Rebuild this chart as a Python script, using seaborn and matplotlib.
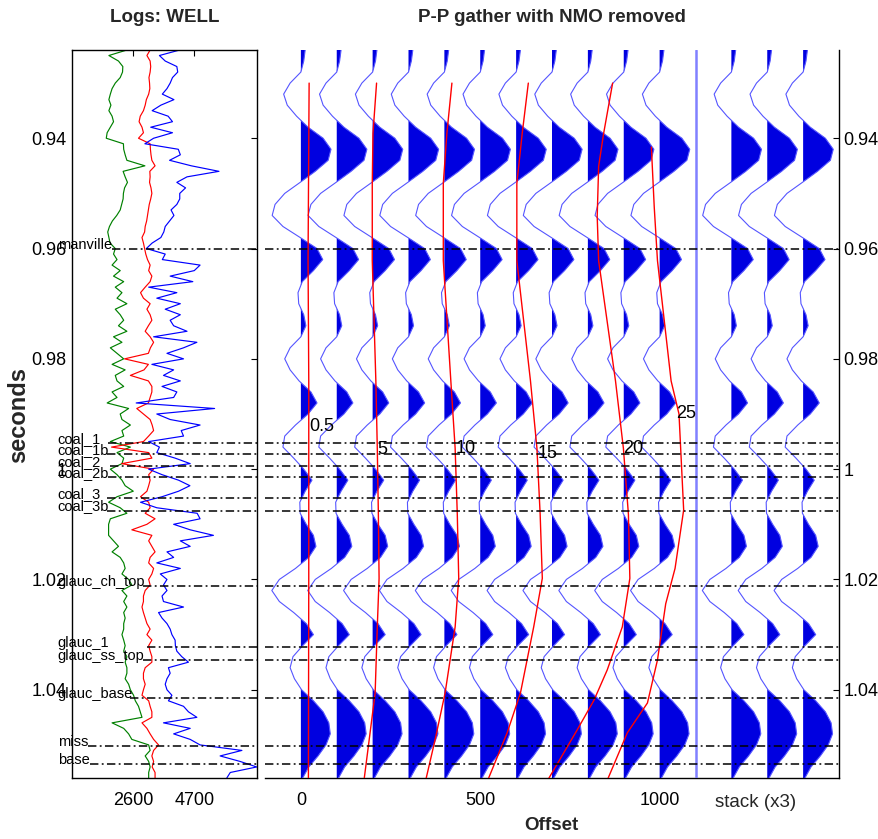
import numpy as np
import pandas as pd
import matplotlib
matplotlib.use("Agg")
import matplotlib.pyplot as plt
import matplotlib.transforms as mtransforms
from matplotlib.ticker import FuncFormatter
import seaborn as sns

# ---------------- well logs: 1 ms samples from 0.924 s to 1.056 s ----------------
log_t0, log_dt, log_n = 0.924, 0.001, 133
log_green = [
    2380, 1760, 2090, 2240, 2230, 2150, 1980, 1870, 1810, 1760,
    1830, 1760, 1870, 1920, 1810, 1700, 1670, 2260, 2270, 2320,
    2380, 3000, 2250, 2320, 2400, 2300, 2260, 2250, 2200, 2150,
    2030, 1880, 1780, 1720, 1760, 1800, 1980, 1920, 2040, 1870,
    2150, 1920, 2270, 1980, 2210, 2040, 2380, 1980, 2150, 2270,
    2090, 2380, 1920, 2210, 1810, 2040, 2270, 1870, 2320, 1980,
    2040, 2270, 1870, 2040, 1700, 2440, 2150, 2210, 2500, 2210,
    2270, 1810, 2500, 2040, 2270, 2210, 1810, 2040, 2210, 2320,
    2600, 2040, 1750, 2150, 2380, 1810, 1750, 1750, 1750, 1920,
    2090, 1870, 2150, 2270, 2320, 2210, 2440, 2550, 2210, 2380,
    2270, 2380, 2270, 2320, 2270, 2270, 2210, 2270, 2320, 2270,
    2380, 2320, 2380, 2380, 2320, 2440, 2500, 2610, 2670, 2780,
    2840, 2900, 1870, 2270, 2440, 2550, 3130, 3180, 3010, 3130,
    3180, 3130, 3130,
]
log_red = [
    3180, 3070, 3180, 3200, 3180, 3140, 3160, 3170, 3130, 3050,
    3010, 2950, 2840, 2800, 2900, 2950, 2780, 3180, 3190, 3210,
    3240, 3350, 3170, 3180, 3160, 3210, 3240, 3200, 3150, 3120,
    3090, 3060, 3010, 2990, 2900, 2950, 2990, 3030, 3090, 3180,
    3130, 3240, 3180, 3010, 2850, 2950, 3180, 3070, 3180, 3240,
    3120, 3010, 3180, 3300, 3190, 3120, 2300, 3120, 2970, 2500,
    3120, 3240, 3240, 3180, 3120, 2720, 2950, 3180, 3250, 3300,
    3130, 2950, 1850, 3130, 3240, 2200, 3300, 3130, 3180, 3130,
    3070, 2850, 3130, 3180, 3010, 3350, 3070, 2550, 3240, 3130,
    3240, 3350, 3180, 3130, 3300, 3240, 3130, 3180, 3010, 2950,
    2950, 2900, 2950, 3010, 3070, 3180, 3070, 3240, 3130, 3180,
    3240, 3240, 3010, 2950, 2950, 3010, 2950, 2900, 3130, 3180,
    3240, 3240, 2900, 3070, 3180, 3300, 3470, 3300, 3240, 3300,
    3250, 3350, 3350,
]
log_blue = [
    4200, 3500, 3700, 4100, 4130, 3950, 3870, 3760, 3600, 4000,
    3550, 3250, 3800, 3950, 3200, 3950, 3300, 3000, 4150, 4220,
    3850, 4600, 5550, 4450, 4100, 4400, 4200, 4200, 4100, 3900,
    4000, 3850, 3700, 3650, 3550, 3250, 3050, 3700, 3600, 4900,
    4700, 3870, 4650, 3130, 4100, 3410, 4220, 3700, 4220, 3870,
    3990, 4450, 3300, 4790, 4330, 3760, 4330, 3240, 3990, 3640,
    4220, 3590, 4100, 3990, 2700, 5400, 3410, 3870, 4900, 4250,
    4330, 3130, 3500, 3410, 4040, 4560, 3130, 3590, 4160, 4550,
    4160, 3590, 2850, 3410, 4800, 4900, 3990, 4560, 5360, 4220,
    4560, 3760, 3990, 3410, 4220, 3530, 3760, 3640, 3760, 3590,
    3640, 4330, 3470, 3590, 3760, 3870, 3930, 4040, 4050, 4100,
    4270, 4500, 3810, 3870, 3760, 3700, 3760, 3930, 3810, 4330,
    4500, 4790, 3640, 4560, 3990, 4560, 4900, 6340, 5590, 6280,
    6850, 5940, 5820,
]
log_colors = {"green": "#008000", "red": "#ff0000", "blue": "#0000ff"}
log_xticks = [2600, 4700]

# ---------------- NMO-corrected trace: 2 ms samples from 0.924 s ----------------
trace_t0, trace_dt = 0.924, 0.002
trace_amp = [
    12, 8, 0, -30, -48, -38, -12, 20, 62, 84,
    76, 40, -2, -45, -72, -80, -50, -2, 45, 61,
    35, 4, -8, -6, 8, 14, 0, -30, -45, -30,
    -5, 28, 45, 20, -15, -45, -50, -20, 8, 31,
    12, -3, -2, 15, 35, 42, 22, -15, -60, -81,
    -60, -20, 15, 35, 5, -22, -30, -18, 2, 35,
    62, 78, 82, 70, 48, 22, 5,
]
gather_offsets = [0, 100, 200, 300, 400, 500, 600, 700, 800, 900, 1000]
stack_offsets = [1200, 1300, 1400]
stack_divider = 1100
offset_ticks = [0, 500, 1000]

# ---------------- incidence-angle contours (degrees) ----------------
angle_labels = ["0.5", "5", "10", "15", "20", "25"]
angle_times = [
    [0.930, 0.9622, 0.984, 1.0198, 1.0564],
    [0.930, 0.9391, 0.9482, 0.9622, 0.984, 0.9962, 1.0082, 1.0198, 1.0286, 1.0406, 1.0503, 1.0564],
    [0.930, 0.9391, 0.9482, 0.9622, 0.984, 0.9962, 1.0082, 1.0198, 1.0286, 1.0406, 1.0491, 1.0564],
    [0.930, 0.9391, 0.9482, 0.9622, 0.984, 0.9962, 1.0082, 1.0198, 1.0286, 1.0406, 1.0478, 1.0564],
    [0.930, 0.9391, 0.9451, 0.9542, 0.9622, 0.984, 0.9962, 1.0082, 1.0198, 1.0286, 1.0364, 1.0419, 1.0473, 1.0564],
    [0.9416, 0.9525, 0.9622, 0.984, 0.990, 1.0074, 1.018, 1.0244, 1.0346, 1.0424, 1.0478, 1.0564],
]
angle_offsets = [
    [23, 20, 22, 22, 21],
    [211, 201, 199, 199, 209, 213, 216, 218, 213, 207, 188, 176],
    [421, 407, 397, 397, 418, 430, 436, 440, 430, 402, 374, 348],
    [634, 617, 602, 602, 640, 658, 667, 673, 649, 612, 575, 521],
    [869, 844, 830, 826, 830, 877, 899, 913, 917, 896, 854, 817, 770, 688],
    [977, 985, 994, 1032, 1054, 1067, 1043, 1017, 994, 966, 910, 854],
]
angle_label_x = [22, 212, 430, 659, 899, 1045]
angle_label_t = [0.9922, 0.9964, 0.9962, 0.9971, 0.9962, 0.9900]

# ---------------- horizons ----------------
horizon_names = ["manville", "coal_1", "coal_1b", "coal_2", "coal_2b", "coal_3", "coal_3b",
                 "glauc_ch_top", "glauc_1", "glauc_ss_top", "glauc_base", "miss", "base"]
horizon_times = [0.9600, 0.99528, 0.99728, 0.99940, 1.00134, 1.00525, 1.00750,
                 1.02110, 1.03226, 1.03469, 1.04150, 1.05015, 1.05354]
horizon_line_x0 = [1867, 1730, 1700, 1800, 1730, 1700, 1700,
                   2935, 3072, 2935, 2487, 1041, 1110]

T_TOP, T_BOT = 0.924, 1.056

sns.set_theme(style="white")
plt.rcParams["font.family"] = ["Liberation Sans", "DejaVu Sans"]
plt.rcParams["axes.edgecolor"] = "black"
plt.rcParams["axes.linewidth"] = 1.0

TICK_FS = 13
W, H = 879, 839
fig = plt.figure(figsize=(W / 100, H / 100), dpi=100)
fig.patch.set_facecolor("white")
ax_log = fig.add_axes([72 / W, 1 - 778 / H, 185 / W, 728 / H])
ax_g = fig.add_axes([265 / W, 1 - 778 / H, 574 / W, 728 / H])

tick_fmt = FuncFormatter(lambda v, p: f"{v:g}")
yticks = [0.94, 0.96, 0.98, 1.00, 1.02, 1.04]
dashdot = (0, (5.5, 2.2, 1.2, 2.2))

# ---------------- log panel ----------------
log_t = np.round(log_t0 + log_dt * np.arange(log_n), 4)
logs = pd.concat([
    pd.DataFrame({"time": log_t, "value": log_green, "curve": "green"}),
    pd.DataFrame({"time": log_t, "value": log_red, "curve": "red"}),
    pd.DataFrame({"time": log_t, "value": log_blue, "curve": "blue"}),
])
sns.lineplot(data=logs, x="value", y="time", hue="curve", palette=log_colors,
             orient="y", sort=False, estimator=None, legend=False,
             linewidth=0.85, ax=ax_log)
ax_log.set_xlim(490, 6860)
ax_log.set_ylim(T_BOT, T_TOP)
ax_log.set_xticks(log_xticks)
ax_log.set_xticklabels([str(v) for v in log_xticks])
ax_log.set_yticks(yticks)
ax_log.yaxis.set_major_formatter(tick_fmt)
ax_log.set_xlabel("")
ax_log.set_ylabel("")
ax_log.tick_params(direction="in", top=True, right=True, length=4, width=0.8,
                   labelsize=TICK_FS, pad=4, colors="black")
ax_log.tick_params(axis="x", pad=10)
for sp in ax_log.spines.values():
    sp.set_visible(True)
    sp.set_color("black")

for name, t, x0 in zip(horizon_names, horizon_times, horizon_line_x0):
    ax_log.plot([x0, 6860], [t, t], color="black", lw=1.1, linestyle=dashdot, zorder=5)
    ax_log.text(0, t, name, ha="left", va="baseline", fontsize=10.5, color="black",
                clip_on=False, zorder=6)

# ---------------- gather panel ----------------
tr_t = np.round(trace_t0 + trace_dt * np.arange(len(trace_amp)), 4)
amp = np.asarray(trace_amp, dtype=float)
fill_col = "#0000e0"
wig_col = "#5555ff"
all_offsets = gather_offsets + stack_offsets
for x0 in all_offsets:
    ax_g.fill_betweenx(tr_t, x0, x0 + amp, where=amp > 0, interpolate=True,
                       color=fill_col, linewidth=0, zorder=2)
wig = pd.concat([pd.DataFrame({"time": tr_t, "x": x0 + amp, "trace": i})
                 for i, x0 in enumerate(all_offsets)])
sns.lineplot(data=wig, x="x", y="time", units="trace", estimator=None, orient="y",
             sort=False, color=wig_col, linewidth=0.8, ax=ax_g, zorder=3)

ax_g.axvline(stack_divider, color="#8080ff", lw=1.8, zorder=3)

curves = pd.concat([pd.DataFrame({"time": tt, "offset": oo, "angle": lab})
                    for tt, oo, lab in zip(angle_times, angle_offsets, angle_labels)])
sns.lineplot(data=curves, x="offset", y="time", hue="angle",
             palette={lab: "#ff0000" for lab in angle_labels}, orient="y", sort=False,
             estimator=None, legend=False, linewidth=1.0, ax=ax_g, zorder=4)
for lab, x, t in zip(angle_labels, angle_label_x, angle_label_t):
    ax_g.text(x, t, lab, ha="left", va="center", fontsize=13, color="black", zorder=7)

for t in horizon_times:
    ax_g.axhline(t, color="black", lw=1.1, linestyle=dashdot, zorder=5)

ax_g.set_xlim(-100, 1500)
ax_g.set_ylim(T_BOT, T_TOP)
ax_g.set_xticks(offset_ticks)
ax_g.set_xticklabels([str(v) for v in offset_ticks])
ax_g.set_yticks(yticks)
ax_g.yaxis.set_major_formatter(tick_fmt)
ax_g.yaxis.tick_right()
ax_g.set_xlabel("")
ax_g.set_ylabel("")
ax_g.spines["left"].set_visible(False)
ax_g.spines["top"].set_visible(False)
ax_g.spines["right"].set_color("black")
ax_g.spines["bottom"].set_color("black")
ax_g.tick_params(direction="in", length=4, width=0.8, labelsize=TICK_FS, pad=3, colors="black")
ax_g.tick_params(axis="x", pad=10)
ax_g.text(1268, -0.033, "stack (x3)", transform=mtransforms.blended_transform_factory(
    ax_g.transData, ax_g.transAxes), ha="center", va="center", fontsize=13.5)

# ---------------- titles and axis labels ----------------
fig.text(164.5 / W, 1 - 18 / H, "Logs: WELL", ha="center", va="center",
         fontsize=13.5, fontweight="bold")
fig.text(552 / W, 1 - 18 / H, "P-P gather with NMO removed", ha="center", va="center",
         fontsize=13.5, fontweight="bold")
fig.text(551 / W, 1 - 826 / H, "Offset", ha="center", va="center",
         fontsize=13.5, fontweight="bold")
fig.text(19 / W, 1 - 415 / H, "seconds", ha="center", va="center", rotation=90,
         fontsize=17, fontweight="bold")

fig.savefig("out.png", dpi=100, facecolor="white")
